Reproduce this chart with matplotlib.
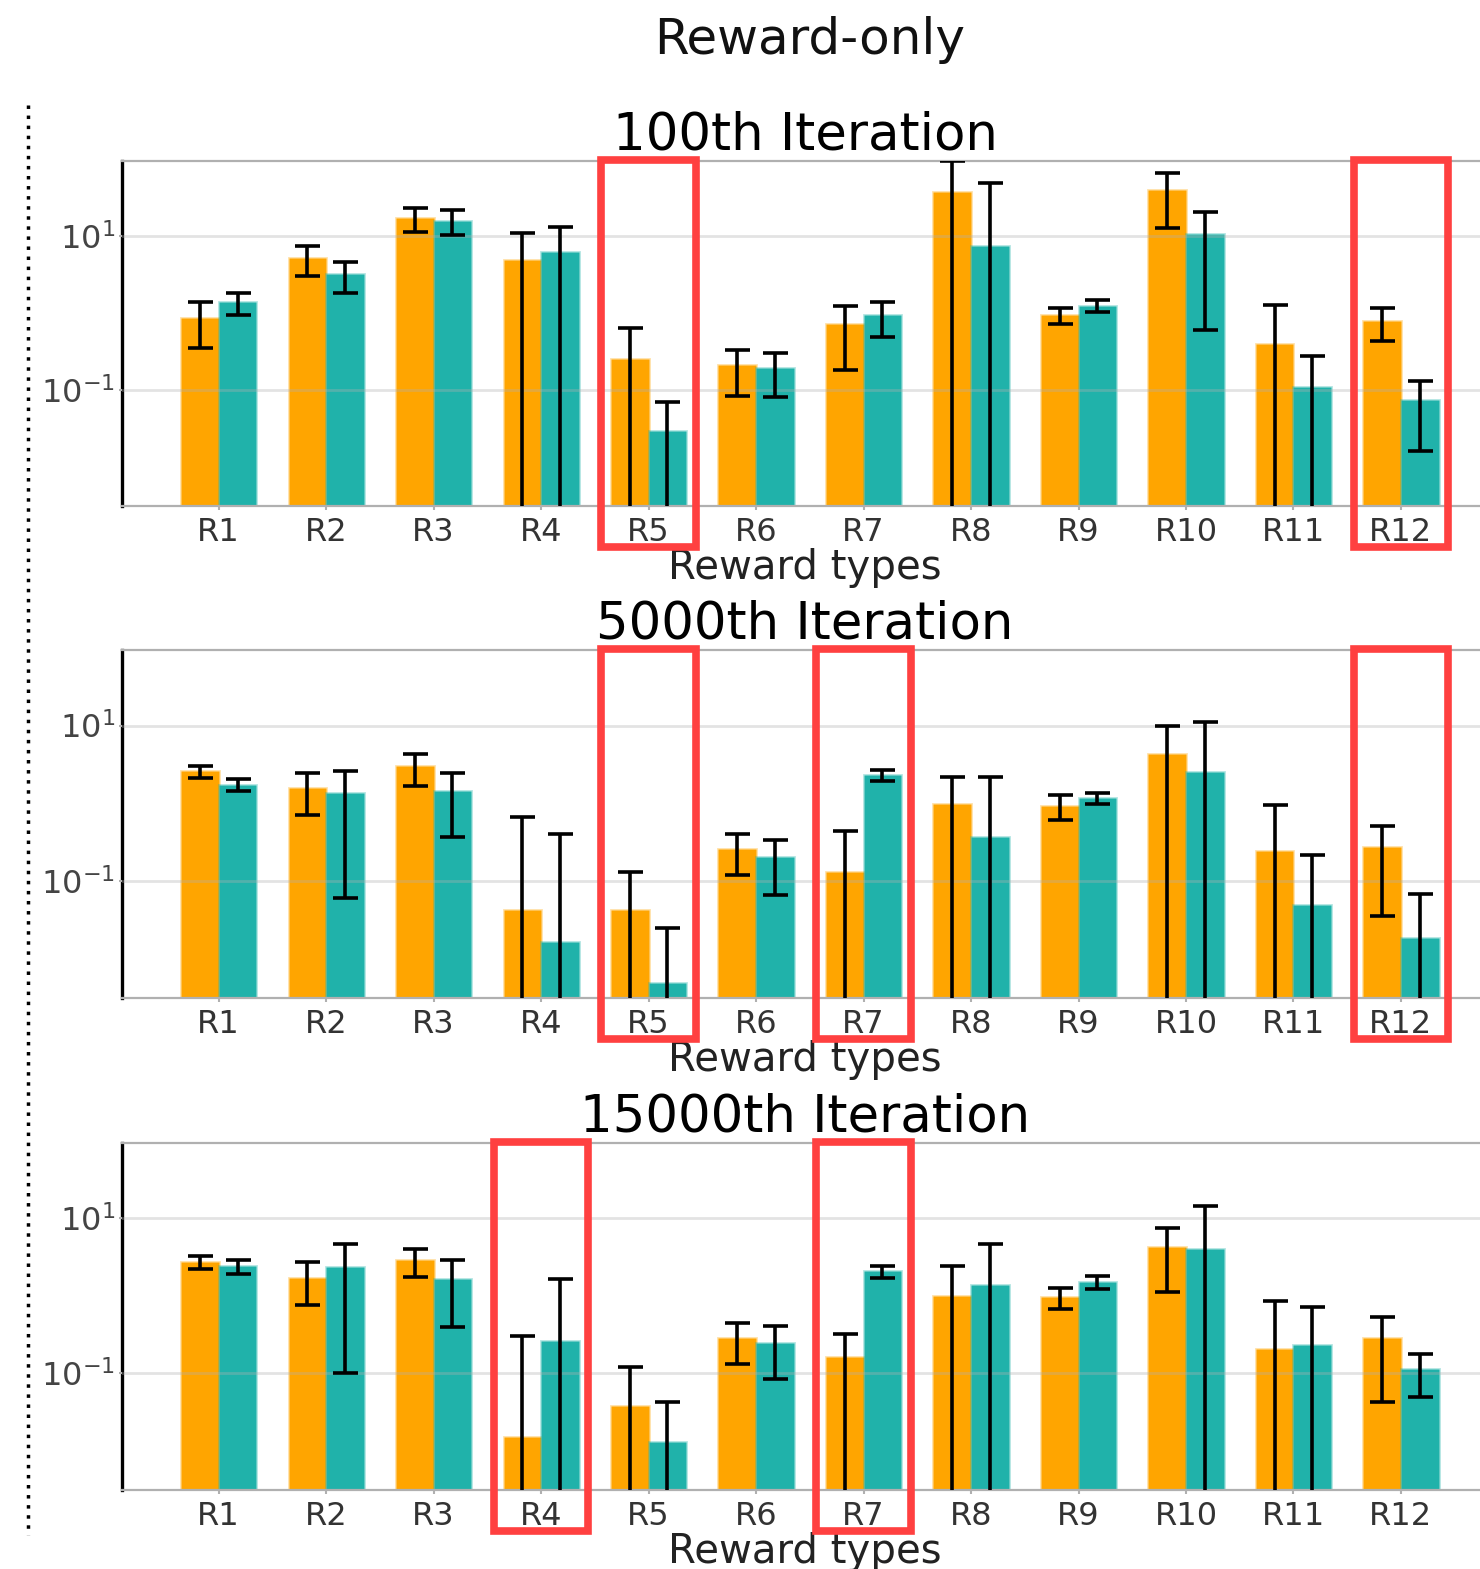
import matplotlib
matplotlib.use("Agg")
import matplotlib.pyplot as plt
from matplotlib.patches import Rectangle
from matplotlib.lines import Line2D
import numpy as np

reward_types = ['R1', 'R2', 'R3', 'R4', 'R5', 'R6', 'R7', 'R8', 'R9', 'R10', 'R11', 'R12']
panel_titles = ['100th Iteration', '5000th Iteration', '15000th Iteration']

# orange series (mean, std) per panel
orange_100 = [0.87, 5.2, 17.3, 4.87, 0.255, 0.209, 0.713, 37.7, 0.94, 39.5, 0.395, 0.787]
orange_100_err = [0.52, 2.15, 6.0, 5.9, 0.39, 0.125, 0.53, 56, 0.22, 27, 0.86, 0.36]
orange_5000 = [2.59, 1.57, 2.98, 0.0427, 0.0425, 0.259, 0.131, 0.97, 0.933, 4.35, 0.239, 0.275]
orange_5000_err = [0.45, 0.87, 1.3, 0.62, 0.088, 0.14, 0.31, 1.23, 0.33, 5.65, 0.70, 0.24]
orange_15000 = [2.73, 1.72, 2.87, 0.0151, 0.0372, 0.288, 0.16, 0.986, 0.966, 4.32, 0.203, 0.288]
orange_15000_err = [0.53, 0.97, 1.1, 0.29, 0.084, 0.155, 0.165, 1.43, 0.3, 3.2, 0.66, 0.245]

# teal series
teal_100 = [1.38, 3.18, 15.8, 6.2, 0.0288, 0.191, 0.933, 7.4, 1.24, 10.6, 0.108, 0.0741]
teal_100_err = [0.44, 1.35, 5.6, 6.9, 0.040, 0.11, 0.45, 41, 0.22, 10.0, 0.17, 0.058]
teal_5000 = [1.73, 1.34, 1.42, 0.0163, 0.0049, 0.2, 2.3, 0.372, 1.16, 2.49, 0.0482, 0.0186]
teal_5000_err = [0.3, 1.28, 1.05, 0.39, 0.0195, 0.135, 0.35, 1.83, 0.19, 8.56, 0.164, 0.049]
teal_15000 = [2.42, 2.38, 1.66, 0.258, 0.0128, 0.243, 2.07, 1.36, 1.5, 3.99, 0.231, 0.112]
teal_15000_err = [0.52, 2.28, 1.27, 1.41, 0.03, 0.16, 0.37, 3.3, 0.28, 10.6, 0.48, 0.063]

# highlighted reward types per panel
highlight_100 = ['R5', 'R12']
highlight_5000 = ['R5', 'R7', 'R12']
highlight_15000 = ['R4', 'R7']

panels = [
    (orange_100, orange_100_err, teal_100, teal_100_err, highlight_100),
    (orange_5000, orange_5000_err, teal_5000, teal_5000_err, highlight_5000),
    (orange_15000, orange_15000_err, teal_15000, teal_15000_err, highlight_15000),
]

W, H = 1480, 1569
fig = plt.figure(figsize=(W / 100, H / 100), dpi=100)

# axes boxes in pixels: (left, top, right, bottom)
boxes = [(122, 161, 1488, 506), (122, 650, 1488, 998), (122, 1143, 1488, 1490)]

x = np.arange(len(reward_types))
bw = 0.35
orange = '#FFA500'
teal = '#20B2AA'

for (o, oe, t, te, hl), (l, tp, r, b), title in zip(panels, boxes, panel_titles):
    ax = fig.add_axes([l / W, 1 - b / H, (r - l) / W, (b - tp) / H])
    ax.set_yscale('log')
    ax.bar(x - bw / 2, o, bw, color=orange, edgecolor=(1, 0.65, 0, 0.35), linewidth=2, zorder=2)
    ax.bar(x + bw / 2, t, bw, color=teal, edgecolor=(0.13, 0.7, 0.67, 0.35), linewidth=2, zorder=2)
    ax.errorbar(x - bw / 2, o, yerr=oe, fmt='none', ecolor='black', elinewidth=2.6,
                capsize=9, capthick=2.6, zorder=4)
    ax.errorbar(x + bw / 2, t, yerr=te, fmt='none', ecolor='black', elinewidth=2.6,
                capsize=9, capthick=2.6, zorder=4)
    ax.set_ylim(0.0031, 94)
    ax.set_xlim(-0.9, 11.81)
    ax.set_yticks([0.1, 10])
    ax.yaxis.set_minor_locator(matplotlib.ticker.NullLocator())
    ax.set_xticks(x)
    ax.set_xticklabels(reward_types)
    ax.tick_params(axis='x', labelsize=23, colors='#b0b0b0', labelcolor='#333333',
                   length=3, width=1.5, pad=5)
    ax.tick_params(axis='y', labelsize=23, colors='#b0b0b0', labelcolor='#444444',
                   length=2, width=1.5, pad=3)
    ax.grid(axis='y', color='#b0b0b0', alpha=0.35, linewidth=2, zorder=3)
    ax.set_axisbelow(False)
    ax.spines['left'].set_color('black')
    ax.spines['left'].set_linewidth(2.4)
    for s in ['top', 'bottom']:
        ax.spines[s].set_color('#b0b0b0')
        ax.spines[s].set_linewidth(1.6)
    ax.spines['right'].set_visible(False)
    ax.set_title(title, fontsize=37, pad=6, color='black')
    ax.set_xlabel('Reward types', fontsize=29, color='#222222', labelpad=0)
    for name in hl:
        i = reward_types.index(name)
        ax.add_patch(Rectangle((i - 0.44, -0.118), 0.88, 1.12, transform=ax.get_xaxis_transform(),
                               fill=False, edgecolor='#FF4040', linewidth=5.5, clip_on=False, zorder=6))

fig.text(810 / W, 1 - 40 / H, 'Reward-only', fontsize=36, ha='center', va='center', color='#111111')

fig.add_artist(Line2D([28 / W, 28 / W], [1 - 105 / H, 1 - 1535 / H], transform=fig.transFigure,
                      color='black', linewidth=2.5, dashes=(1, 1.9)))

fig.savefig('out.png', dpi=100)
